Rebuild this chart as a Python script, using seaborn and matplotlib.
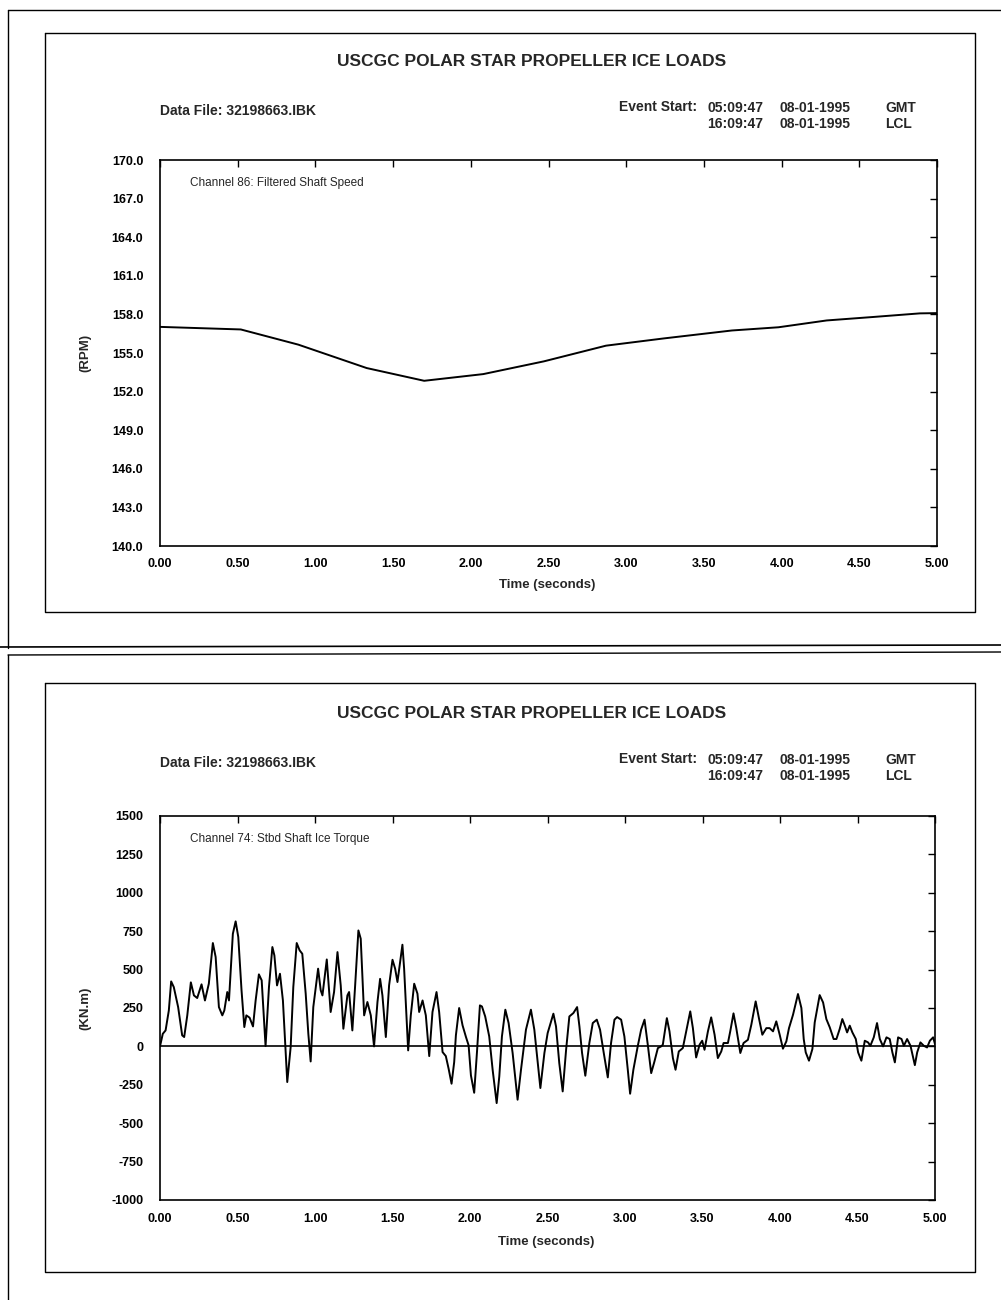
import matplotlib
matplotlib.use("Agg")
import matplotlib.pyplot as plt
import seaborn as sns
import pandas as pd
from matplotlib.lines import Line2D
from matplotlib.ticker import FormatStrFormatter

# ---------------- data ----------------
speed_time = [0.00, 0.52, 0.89, 1.33, 1.70, 2.08, 2.47, 2.87, 3.24, 3.68, 3.98, 4.29, 4.59, 4.89, 5.00]
speed_rpm = [157.03, 156.83, 155.65, 153.83, 152.84, 153.36, 154.35, 155.57, 156.13, 156.75,
             157.00, 157.53, 157.80, 158.08, 158.10]

torque_time = [
    0.000, 0.018, 0.036, 0.057, 0.072, 0.089, 0.117, 0.143, 0.156, 0.176,
    0.199, 0.219, 0.240, 0.268, 0.290, 0.315, 0.341, 0.359, 0.380, 0.402,
    0.415, 0.434, 0.445, 0.470, 0.488, 0.505, 0.526, 0.544, 0.557, 0.578,
    0.600, 0.617, 0.638, 0.656, 0.681, 0.703, 0.725, 0.738, 0.755, 0.774,
    0.793, 0.821, 0.843, 0.860, 0.882, 0.901, 0.918, 0.940, 0.957, 0.972,
    0.989, 1.020, 1.037,
    1.048, 1.076, 1.101, 1.123, 1.145, 1.166, 1.183, 1.209, 1.220, 1.241,
    1.259, 1.280, 1.295, 1.317, 1.338, 1.360, 1.381, 1.403, 1.420, 1.435,
    1.457, 1.478, 1.500, 1.517, 1.532, 1.564, 1.575, 1.601, 1.618, 1.640,
    1.661, 1.672, 1.694, 1.715, 1.737, 1.758, 1.784, 1.801, 1.823, 1.844,
    1.862, 1.881, 1.898, 1.909, 1.930, 1.952, 1.974, 1.991, 2.006, 2.027,
    2.045, 2.064,
    2.077, 2.098, 2.124, 2.146, 2.172, 2.189, 2.206, 2.228, 2.249, 2.275,
    2.307, 2.329, 2.361, 2.393, 2.415, 2.437, 2.454, 2.480, 2.501, 2.538,
    2.555, 2.576, 2.598, 2.620, 2.641, 2.667, 2.691, 2.706, 2.723, 2.744,
    2.770, 2.792, 2.818, 2.839, 2.863, 2.889, 2.910, 2.932, 2.949, 2.975,
    2.996, 3.018, 3.033, 3.054, 3.082, 3.104,
    3.126, 3.147, 3.169, 3.190, 3.212, 3.233, 3.244, 3.270, 3.287, 3.309,
    3.326, 3.347, 3.373, 3.395, 3.421, 3.438, 3.459, 3.481, 3.498, 3.513,
    3.535, 3.556, 3.578, 3.599, 3.621, 3.636, 3.664, 3.679, 3.700, 3.718,
    3.744, 3.765, 3.793, 3.815, 3.843, 3.864, 3.886, 3.912, 3.933, 3.955,
    3.976, 3.998, 4.019, 4.041, 4.058, 4.084, 4.116, 4.138,
    4.153, 4.166, 4.187, 4.209, 4.224, 4.256, 4.278, 4.299, 4.321, 4.346,
    4.364, 4.385, 4.402, 4.418, 4.433, 4.450, 4.467, 4.489, 4.504, 4.525,
    4.547, 4.568, 4.583, 4.605, 4.626, 4.644, 4.665, 4.687, 4.708, 4.725,
    4.741, 4.762, 4.784, 4.799, 4.820, 4.842, 4.870, 4.885, 4.906, 4.928,
    4.949, 4.967, 4.988, 5.000,
]
torque_knm = [
    0, 82, 104, 234, 423, 386, 256, 72, 61, 202,
    417, 332, 315, 404, 299, 408, 673, 582, 256, 202,
    234, 354, 299, 733, 814, 712, 365, 126, 202, 187,
    130, 299, 469, 430, 2, 386, 647, 592, 397, 473,
    299, -232, -4, 386, 673, 625, 603, 343, 82, -98,
    256, 506, 365,
    332, 566, 224, 354, 614, 397, 115, 332, 354, 104,
    397, 755, 701, 202, 289, 202, 0, 289, 440, 332,
    61, 397, 564, 506, 419, 662, 506, -26, 202, 408,
    343, 224, 299, 202, -63, 224, 354, 224, -37, -63,
    -145, -243, -102, 72, 250, 137, 61, 7, -189, -302,
    -37, 267,
    260, 195, 65, -152, -369, -195, 65, 239, 152, -43,
    -347, -152, 109, 239, 109, -109, -271, -43, 87, 213,
    130, -109, -293, -22, 195, 217, 256, 130, -43, -191,
    22, 152, 174, 109, -43, -202, 22, 174, 191, 174,
    65, -152, -308, -152, 0, 109,
    174, 11, -174, -98, -11, 0, 11, 184, 98, -76,
    -152, -33, -11, 98, 228, 119, -72, 11, 37, -22,
    98, 189, 76, -76, -33, 22, 22, 98, 215, 119,
    -43, 22, 43, 141, 293, 184, 76, 119, 119, 98,
    163, 76, -15, 33, 119, 206, 341, 250,
    48, -39, -93, -17, 156, 334, 286, 178, 124, 48,
    48, 113, 178, 135, 91, 135, 91, 48, -39, -93,
    37, 26, 4, 59, 152, 48, 0, 59, 48, -39,
    -104, 59, 48, 4, 48, 4, -122, -39, 26, 4,
    -7, 37, 59, 15,
]

x_ticks = [0.0, 0.5, 1.0, 1.5, 2.0, 2.5, 3.0, 3.5, 4.0, 4.5, 5.0]
speed_ticks = [140, 143, 146, 149, 152, 155, 158, 161, 164, 167, 170]
torque_ticks = [-1000, -750, -500, -250, 0, 250, 500, 750, 1000, 1250, 1500]

title_text = "USCGC POLAR STAR PROPELLER ICE LOADS"
data_file = "Data File: 32198663.IBK"
event_label = "Event Start:"
gmt_time, gmt_date, gmt_zone = "05:09:47", "08-01-1995", "GMT"
lcl_time, lcl_date, lcl_zone = "16:09:47", "08-01-1995", "LCL"

speed_df = pd.DataFrame({"t": speed_time, "v": speed_rpm})
torque_df = pd.DataFrame({"t": torque_time, "v": torque_knm})

# ---------------- style ----------------
sns.set_style("white")
plt.rcParams["font.family"] = ["Liberation Sans", "DejaVu Sans"]
plt.rcParams["font.weight"] = "bold"

W, H = 1001, 1300
fig = plt.figure(figsize=(W / 100, H / 100), dpi=100)
fig.patch.set_facecolor("white")


def fx(x):
    return x / W


def fy(y):
    return 1 - y / H


def add_line(xs, ys, lw=1.0):
    fig.add_artist(Line2D([fx(v) for v in xs], [fy(v) for v in ys],
                          transform=fig.transFigure, color="black", lw=lw))


def panel(ax_box, y_off, df, yticks, yfmt, ylim, ylabel, channel, zero_line, xlab_y):
    l, t, r, b = ax_box
    ax = fig.add_axes([fx(l), fy(b), (r - l) / W, (b - t) / H])
    sns.lineplot(data=df, x="t", y="v", ax=ax, color="black", lw=1.4,
                 estimator=None, sort=False, solid_joinstyle="round")
    if zero_line:
        ax.axhline(0, color="black", lw=1.2, zorder=1)
    ax.set_xlim(0, 5)
    ax.set_ylim(*ylim)
    ax.set_xticks(x_ticks)
    ax.set_yticks(yticks)
    ax.xaxis.set_major_formatter(FormatStrFormatter("%.2f"))
    ax.yaxis.set_major_formatter(FormatStrFormatter(yfmt))
    ax.tick_params(direction="in", length=5, width=1.0, top=True, right=True,
                   labelsize=9, pad=9, colors="black")
    ax.tick_params(axis="y", pad=12)
    for lab in ax.get_xticklabels() + ax.get_yticklabels():
        lab.set_fontweight("bold")
    for s in ax.spines.values():
        s.set_color("black")
        s.set_linewidth(1.2)
        s.set_visible(True)
    ax.set_xlabel("Time (seconds)", fontsize=9.5, fontweight="bold")
    ax.xaxis.set_label_coords(0.498, xlab_y)
    ax.set_ylabel(ylabel, fontsize=9.5, fontweight="bold")
    ax.yaxis.set_label_coords(-0.088, 0.5)
    ax.text(0.039, 0.94, channel, transform=ax.transAxes, fontsize=8.5,
            fontweight="normal", ha="left", va="center")

    # header texts
    fig.text(fx(532), fy(61 + y_off), title_text, ha="center", va="center",
             fontsize=12.5, fontweight="bold")
    fig.text(fx(160), fy(111 + y_off), data_file, ha="left", va="center",
             fontsize=10, fontweight="bold")
    fig.text(fx(697), fy(107 + y_off), event_label, ha="right", va="center",
             fontsize=10, fontweight="bold")
    for (tm, dt, zn, yy) in [(gmt_time, gmt_date, gmt_zone, 108),
                             (lcl_time, lcl_date, lcl_zone, 124)]:
        fig.text(fx(763), fy(yy + y_off), tm, ha="right", va="center",
                 fontsize=10, fontweight="bold")
        fig.text(fx(779), fy(yy + y_off), dt, ha="left", va="center",
                 fontsize=10, fontweight="bold")
        fig.text(fx(885), fy(yy + y_off), zn, ha="left", va="center",
                 fontsize=10, fontweight="bold")
    return ax


# page frames (scanned document borders)
add_line([8, 1001], [10, 10], 1.0)
add_line([8, 8], [10, 648], 1.0)
add_line([0, 1001], [647, 645], 1.2)
add_line([8, 1001], [655, 652], 1.0)
add_line([8, 8], [655, 1300], 1.0)
# inner report boxes
for (t0, b0) in [(33, 612), (683, 1272)]:
    add_line([45, 975, 975, 45, 45], [t0, t0, b0, b0, t0], 1.0)

panel((160, 160, 937, 546), 0, speed_df, speed_ticks, "%.1f", (140, 170),
      "(RPM)", "Channel 86: Filtered Shaft Speed", False, -0.086)
panel((160, 816, 935, 1200), 652, torque_df, torque_ticks, "%d", (-1000, 1500),
      "(KN.m)", "Channel 74: Stbd Shaft Ice Torque", True, -0.095)

fig.savefig("out.png", dpi=100, facecolor="white")
